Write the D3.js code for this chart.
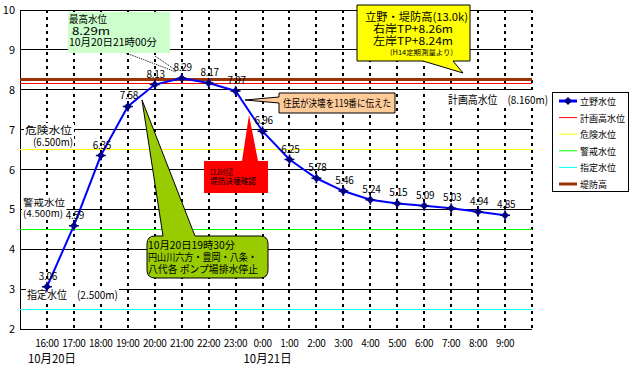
<!DOCTYPE html>
<html><head><meta charset="utf-8">
<script src="https://cdn.jsdelivr.net/npm/d3@7"></script>
<style>
body{margin:0;background:#fff;}
svg text{font-family:"Noto Sans CJK JP","Noto Sans",sans-serif;fill:#000;}
</style></head><body>
<svg id="c" width="636" height="369"></svg>
<script>
const times = ["16:00","17:00","18:00","19:00","20:00","21:00","22:00","23:00","0:00","1:00","2:00","3:00","4:00","5:00","6:00","7:00","8:00","9:00"];
const levels = [3.06,4.59,6.35,7.58,8.13,8.29,8.17,7.97,6.96,6.25,5.78,5.46,5.24,5.15,5.09,5.03,4.94,4.85];
const yTicks = [2,3,4,5,6,7,8,9,10];
const refNames = ["計画高水位","危険水位","警戒水位","指定水位","堤防高"];
const refValues = [8.16,6.5,4.5,2.5,8.26];
const refColors = ["#ff0000","#ffff00","#00ff00","#00ffff","#993300"];
const refWidths = [1,1,1,1,3];
const seriesName = "立野水位";
const dateLabels = [{i:0,t:"10月20日"},{i:8,t:"10月21日"}];

const svg = d3.select("#c");
const x = d3.scaleLinear().domain([-1,18]).range([20,532]);
const y = d3.scaleLinear().domain([2,10]).range([329,10]);

// horizontal gridlines
svg.append("g").selectAll("line").data(yTicks).join("line")
  .attr("x1",x(-1)).attr("x2",x(18)).attr("y1",d=>y(d)).attr("y2",d=>y(d))
  .attr("stroke","#000").attr("stroke-width",1).attr("shape-rendering","crispEdges");

// vertical dotted gridlines
svg.append("g").selectAll("line").data(d3.range(0,19)).join("line")
  .attr("x1",d=>x(d)).attr("x2",d=>x(d)).attr("y1",y(10)).attr("y2",y(2))
  .attr("stroke","#000").attr("stroke-width",2).attr("stroke-dasharray","3,4").attr("shape-rendering","crispEdges");

// left axis
svg.append("line").attr("x1",x(-1)).attr("x2",x(-1)).attr("y1",y(10)).attr("y2",y(2))
  .attr("stroke","#000").attr("shape-rendering","crispEdges");

// reference lines
svg.append("g").selectAll("line").data(refValues).join("line")
  .attr("x1",x(-1)).attr("x2",x(18)).attr("y1",d=>y(d)).attr("y2",d=>y(d))
  .attr("stroke",(d,i)=>refColors[i]).attr("stroke-width",(d,i)=>refWidths[i]).attr("shape-rendering","crispEdges");

// y tick labels
svg.append("g").selectAll("text").data(yTicks).join("text")
  .attr("x",15).attr("y",d=>y(d)+4).attr("text-anchor","end").attr("font-size",11)
  .attr("font-family","Liberation Sans, Arial, sans-serif").text(d=>d);

// x tick labels
svg.append("g").selectAll("text").data(times).join("text")
  .attr("x",(d,i)=>x(i)).attr("y",347).attr("text-anchor","middle").attr("font-size",10)
  .attr("font-family","Liberation Sans, Arial, sans-serif").attr("letter-spacing","-0.3").text(d=>d);
svg.append("g").selectAll("text").data(dateLabels).join("text")
  .attr("x",d=>x(d.i)+5).attr("y",363).attr("text-anchor","middle").attr("font-size",12)
  .attr("textLength",48).attr("lengthAdjust","spacingAndGlyphs").text(d=>d.t);

// helper for multi-line text with fixed widths
function boxText(lines, xx, yy, lh, fs, bg){
  const g = svg.append("g");
  lines.forEach((l,k)=>{
    const t = g.append("text").attr("font-size",fs).attr("x",xx+(l.dx||0)).attr("y",yy+k*lh).text(l.t);
    if(l.w) t.attr("textLength",l.w).attr("lengthAdjust","spacingAndGlyphs");
  });
  if(bg){const b=g.node().getBBox(); g.insert("rect","text").attr("x",b.x-1).attr("y",b.y+1).attr("width",b.width+2).attr("height",b.height-2).attr("fill","#fff");}
  return g;
}
boxText([{t:"危険水位",w:47},{t:"(6.500m)",dx:8,w:40}],25,134,12,10.5,true);
boxText([{t:"警戒水位",w:42},{t:"(4.500m)",w:40}],23,206,11,9.5,true);
boxText([{t:"指定水位\u3000(2.500m)",w:91}],27,299,12,11,true);
boxText([{t:"計画高水位\u3000(8.160m)",w:100}],448,104,12,11,true);

// series line
const line = d3.line().x((d,i)=>x(i)).y(d=>y(d));
svg.append("path").datum(levels).attr("d",line).attr("fill","none").attr("stroke","#0000ff").attr("stroke-width",2);
const mk = svg.append("g").selectAll("g").data(levels).join("g")
  .attr("transform",(d,i)=>`translate(${x(i)},${y(d)})`);
mk.append("path").attr("d","M0,-4L4,0L0,4L-4,0Z").attr("fill","#000080");
mk.append("path").attr("d","M-5,0H5M0,-5V5").attr("stroke","#000080").attr("stroke-width",1.5);

// data labels
svg.append("g").selectAll("text").data(levels).join("text")
  .attr("x",(d,i)=>x(i)+1).attr("y",d=>y(d)-7).attr("text-anchor","middle").attr("font-size",10)
  .attr("font-family","Liberation Sans, Arial, sans-serif").attr("letter-spacing","-0.3").text(d=>d.toFixed(2));

// max callout (light green)
svg.append("line").attr("x1",126).attr("y1",53).attr("x2",176).attr("y2",72).attr("stroke","#000").attr("stroke-dasharray","1,1");
svg.append("line").attr("x1",155).attr("y1",56).attr("x2",174).attr("y2",69).attr("stroke","#000").attr("stroke-dasharray","1,1");
svg.append("rect").attr("x",68).attr("y",12).attr("width",102).attr("height",41).attr("fill","#ccffcc");
boxText([{t:"最高水位",w:38},{t:" 8.29m",w:38,dx:3},{t:"10月20日21時00分",w:88}],69,23,11.5,10.5,false);

// yellow callout
svg.append("path").attr("d","M357,5H470V61H453L463,73L423,61H357Z").attr("fill","#ffff00").attr("stroke","#000");
boxText([{t:"立野・堤防高(13.0k)",w:103},{t:"右岸TP+8.26m",dx:8,w:80},{t:"左岸TP+8.24m",dx:8,w:80}],365,21,12,11,false);
svg.append("text").attr("x",390).attr("y",55).attr("font-size",7).attr("textLength",63).attr("lengthAdjust","spacingAndGlyphs").text("(H14定期測量より)");

// orange callout
svg.append("path").attr("d","M279,93H395V113H279V103L245,100L279,97Z").attr("fill","#ffcc99").attr("stroke","#000");
svg.append("text").attr("x",283).attr("y",107).attr("font-size",10).attr("textLength",108).attr("lengthAdjust","spacingAndGlyphs").text("住民が決壊を119番に伝えた");

// red callout
svg.append("path").attr("d","M204,161H242L249,115L258,161H268V193H204Z").attr("fill","#ff0000");
boxText([{t:"13.2k付近",w:23},{t:"堤防決壊確認",w:46}],210,175,9,8,false);

// green callout
svg.append("path").attr("d","M155,236H163L142,100L195,236H260Q268,236 268,244V270Q268,278 260,278H155Q147,278 147,270V244Q147,236 155,236Z")
  .attr("fill","#99cc00").attr("stroke","#000");
boxText([{t:"10月20日19時30分",w:87},{t:"円山川六方・豊岡・八条・",w:109},{t:"八代各 ポンプ場排水停止",w:110}],148,249,12,10.5,false);

// legend
const lg = svg.append("g");
lg.append("rect").attr("x",552.5).attr("y",92.5).attr("width",76).attr("height",99).attr("fill","#fff").attr("stroke","#000");
const legNames = [seriesName].concat(refNames);
const legColors = ["#0000ff"].concat(refColors);
const legW = [3].concat([1,1,1,1,3]);
legNames.forEach((n,k)=>{
  const yy = 101 + k*16.6;
  lg.append("line").attr("x1",559).attr("x2",577).attr("y1",yy).attr("y2",yy).attr("stroke",legColors[k]).attr("stroke-width",legW[k]);
  if(k===0){lg.append("path").attr("d",`M568,${yy-4}L572,${yy}L568,${yy+4}L564,${yy}Z`).attr("fill","#000080");}
  lg.append("text").attr("x",580).attr("y",yy+4).attr("font-size",9).text(n);
});
</script></body></html>
